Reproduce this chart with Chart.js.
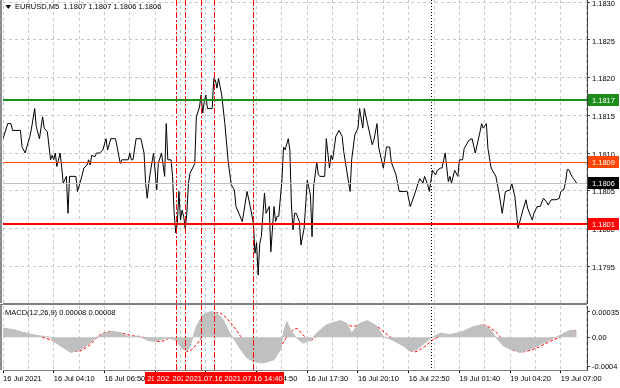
<!DOCTYPE html>
<html>
<head>
<meta charset="utf-8">
<script src="https://cdn.jsdelivr.net/npm/chart.js@4.4.1/dist/chart.umd.min.js"></script>
<style>
  html, body { margin: 0; padding: 0; background: #fff; }
  #wrap { position: relative; width: 620px; height: 388px; overflow: hidden; }
  #main { position: absolute; left: 0; top: 0; }
  #macd { position: absolute; left: 0; top: 304px; }
</style>
</head>
<body>
<div id="wrap">
  <canvas id="main" width="620" height="304"></canvas>
  <canvas id="macd" width="620" height="84"></canvas>
</div>
<script>
// EURUSD M5 close prices, [bar, price]
const closeSeries = [
  [0,1.18119],[3,1.18139],[5,1.18139],[6,1.18130],[11,1.18130],[12,1.18108],[14,1.18100],[15,1.18108],
  [17,1.18122],[18,1.18133],[20,1.18159],[21,1.18135],[23,1.18119],[25,1.18148],[26,1.18133],[28,1.18128],
  [30,1.18091],[31,1.18097],[32,1.18091],[33,1.18100],[34,1.18082],[36,1.18100],[37,1.18082],[38,1.18060],
  [40,1.18069],[41,1.18020],[42,1.18069],[46,1.18069],[47,1.18049],[50,1.18071],[51,1.18080],[53,1.18084],
  [54,1.18091],[55,1.18084],[56,1.18097],[58,1.18095],[59,1.18100],[61,1.18100],[63,1.18104],[65,1.18119],
  [66,1.18104],[68,1.18119],[71,1.18119],[74,1.18086],[75,1.18091],[79,1.18091],[80,1.18100],[81,1.18091],
  [82,1.18091],[84,1.18119],[87,1.18119],[89,1.18100],[90,1.18060],[91,1.18040],[92,1.18060],[93,1.18075],
  [95,1.18100],[97,1.18051],[98,1.18086],[100,1.18100],[102,1.18069],[103,1.18139],[104,1.18091],[106,1.18091],
  [107,1.18069],[108,1.18020],[109,1.17994],[110,1.18007],[111,1.18049],[112,1.18011],[113,1.18024],[114,1.18016],
  [115,1.18000],[116,1.18020],[117,1.18060],[118,1.18073],[121,1.18086],[122,1.18148],[124,1.18161],[125,1.18177],
  [126,1.18153],[127,1.18168],[128,1.18177],[129,1.18159],[132,1.18159],[133,1.18199],[134,1.18197],[135,1.18186],
  [136,1.18199],[138,1.18177],[140,1.18139],[142,1.18091],[144,1.18058],[146,1.18051],[147,1.18029],[151,1.18009],
  [154,1.18049],[156,1.18029],[158,1.18007],[159,1.17967],[160,1.17981],[161,1.17938],[162,1.17980],[163,1.17989],
  [165,1.18047],[166,1.18020],[168,1.18029],[169,1.17969],[171,1.18029],[172,1.18009],[173,1.18016],[174,1.18016],
  [176,1.18064],[177,1.18108],[178,1.18104],[180,1.18119],[181,1.18104],[182,1.18031],[183,1.17998],[184,1.18020],
  [185,1.18020],[187,1.18009],[188,1.17978],[190,1.18000],[192,1.18064],[194,1.18044],[195,1.17989],[196,1.18055],
  [198,1.18088],[199,1.18071],[200,1.18069],[203,1.18069],[204,1.18119],[206,1.18080],[207,1.18097],[208,1.18091],
  [210,1.18122],[212,1.18130],[214,1.18122],[215,1.18102],[217,1.18075],[219,1.18049],[220,1.18091],[222,1.18124],
  [224,1.18133],[225,1.18159],[227,1.18133],[228,1.18159],[230,1.18139],[233,1.18111],[234,1.18117],[236,1.18139],
  [237,1.18108],[240,1.18080],[242,1.18108],[244,1.18108],[245,1.18088],[248,1.18071],[250,1.18049],[254,1.18049],
  [255,1.18049],[257,1.18029],[260,1.18047],[262,1.18060],[263,1.18066],[265,1.18060],[266,1.18069],[268,1.18058],
  [269,1.18049],[271,1.18077],[273,1.18071],[274,1.18077],[276,1.18080],[277,1.18080],[279,1.18100],[281,1.18062],
  [282,1.18069],[283,1.18060],[285,1.18077],[287,1.18069],[288,1.18091],[290,1.18091],[291,1.18106],[294,1.18117],
  [296,1.18119],[298,1.18100],[301,1.18128],[302,1.18139],[303,1.18133],[305,1.18139],[306,1.18106],[308,1.18080],
  [311,1.18069],[313,1.18047],[315,1.18020],[317,1.18049],[320,1.18051],[321,1.18060],[323,1.18042],[325,1.18000],
  [327,1.18016],[328,1.18024],[330,1.18038],[331,1.18027],[333,1.18016],[334,1.18011],[335,1.18020],[337,1.18029],
  [339,1.18029],[341,1.18040],[343,1.18035],[344,1.18031],[346,1.18038],[349,1.18038],[351,1.18040],[352,1.18049],
  [354,1.18052],[355,1.18062],[356,1.18078],[357,1.18078],[359,1.18069],[360,1.18066],[362,1.18060]
];

// MACD(12,26,9) main line (grey histogram) and signal line, [bar, value]
const macdSeries = [
  [0,0.000126],[7,0.000103],[14,0.000058],[19,0.000034],[23,0.00002],[30,0],[32,-0.000058],[40,-0.000171],
  [43,-0.00021],[49,-0.00017],[55,-0.00008],[59,0],[65,0.000066],[70,0.00008],[74,0.00006],[80,0],
  [86,0.00002],[91,-0.00004],[95,-0.000058],[103,-0.00001],[109,-0.00003],[112,-0.000126],[116,-0.000195],[118,-0.00012],
  [122,0.000148],[126,0.000309],[131,0.000354],[135,0.000332],[139,0.00024],[143,0.000058],[145,0],[150,-0.00017],
  [154,-0.000285],[158,-0.00033],[164,-0.000354],[171,-0.00031],[175,-0.00017],[177,0.00006],[179,0.000217],[182,0.00008],
  [185,0],[189,-0.00008],[194,-0.00004],[198,0.000058],[204,0.000171],[213,0.000231],[217,0.00019],[220,0.000058],
  [225,0.00019],[230,0.000231],[236,0.000148],[240,0.00001],[246,-0.00004],[253,-0.000126],[257,-0.000195],[261,-0.00017],
  [266,-0.00008],[270,-0.00001],[276,0.000058],[282,0.000034],[290,0.00008],[297,0.000148],[303,0.000171],[308,0.0001],
  [311,0],[316,-0.000126],[322,-0.00017],[326,-0.00021],[332,-0.00017],[341,-0.00008],[349,0],[356,0.00008],
  [359,0.0001],[362,0.00008]
];
const signalSeries = [
  [0,0.000112],[9,0.00008],[19,0.00003],[30,-0.000034],[40,-0.000126],[47,-0.000195],[55,-0.0001],[61,0.00003],
  [68,0.00008],[74,0.00006],[82,0.00002],[91,-0.00001],[99,-0.00006],[107,-0.00001],[116,-0.000195],[122,-0.0001],
  [129,0.000126],[135,0.00034],[141,0.000263],[150,0.00001],[156,-0.000217],[162,-0.00033],[170,-0.0003],[179,0],
  [185,0.00012],[189,0.00004],[194,-0.00004],[202,0.0001],[208,0.00018],[214,0.0002],[221,0.00015],[230,0.0002],
  [236,0.00015],[244,0.00001],[252,-0.00008],[259,-0.0002],[266,-0.00013],[271,-0.00004],[278,0.00003],[286,0.00003],
  [295,0.0001],[303,0.00017],[312,0.00005],[318,-0.00013],[326,-0.0002],[334,-0.00017],[345,-0.00006],[353,0.00002],
  [362,0.0001]
];

// time axis: a label every 32 bars, a grid line every 16
const timeLabels = ['16 Jul 2021', '16 Jul 04:10', '16 Jul 06:50', '16 Jul 09:30', '16 Jul 12:10', '16 Jul 14:50',
  '16 Jul 17:30', '16 Jul 20:10', '16 Jul 22:50', '19 Jul 01:40', '19 Jul 04:20', '19 Jul 07:00'];
const labelStep = 32;
const gridStep = 16;
const lastBar = 368.5;

const priceTicks = [1.1795, 1.1800, 1.1805, 1.1810, 1.1815, 1.1820, 1.1825, 1.1830];
const macdTicks = [0.00035, 0, -0.0004];
const macdTickLabels = ['0.00035', '0.00', '-0.0004'];

// horizontal levels
const resistanceLevel = 1.1817;
const middleLevel = 1.18088;
const bidLevel = 1.1806;
const supportLevel = 1.18006;

// vertical lines
const markerBars = [109, 115, 125, 133, 158];
const markerTimes = ['2021.07.16 10:35', '2021.07.16 11:05', '2021.07.16 11:55', '2021.07.16 12:35', '2021.07.16 14:40'];
const separatorBar = 270;

const quote = ['1.1807', '1.1807', '1.1806', '1.1806'];
const macdLast = ['0.00008', '0.00008'];

const FONT = "'Liberation Sans', Arial, sans-serif";
Chart.defaults.font.family = FONT;
Chart.defaults.font.size = 7.5;
Chart.defaults.color = '#000';

const gridBars = [];
for (let b = 0; b <= lastBar; b += gridStep) gridBars.push(b);

// no extra room for the end labels, the chart area stays where it is
function noPad(s) {
  s.paddingTop = 0; s.paddingBottom = 0; s.paddingLeft = 0; s.paddingRight = 0;
}

function xAxis(withLabels) {
  return {
    type: 'linear', min: 0, max: lastBar,
    afterBuildTicks: s => { s.ticks = gridBars.map(v => ({ value: v })); },
    afterFit: s => { s.height = withLabels ? 18 : 0; noPad(s); },
    grid: {
      color: '#c8c8c8', drawTicks: withLabels, tickLength: 3,
      tickColor: c => (c.index % 2 ? 'rgba(0,0,0,0)' : '#000')
    },
    border: { dash: [3, 3], color: '#808080' },
    ticks: {
      display: withLabels, align: 'start', autoSkip: false, maxRotation: 0, padding: 1,
      callback: v => (v % labelStep === 0 ? timeLabels[v / labelStep] : '')
    }
  };
}

function drawVerticals(chart) {
  const { ctx, chartArea: a, scales: { x } } = chart;
  ctx.save();
  ctx.lineWidth = 1;
  ctx.strokeStyle = '#000';
  ctx.setLineDash([1, 2]);
  let px = Math.round(x.getPixelForValue(separatorBar)) + 0.5;
  ctx.beginPath(); ctx.moveTo(px, 0); ctx.lineTo(px, a.bottom); ctx.stroke();
  ctx.strokeStyle = '#ff0000';
  ctx.setLineDash([6, 2, 2, 2]);
  markerBars.forEach(b => {
    px = Math.round(x.getPixelForValue(b)) + 0.5;
    ctx.beginPath(); ctx.moveTo(px, 0); ctx.lineTo(px, a.bottom); ctx.stroke();
  });
  ctx.restore();
}

function drawFrame(chart) {
  const { ctx, chartArea: a } = chart;
  ctx.save();
  ctx.fillStyle = '#8c8c8c';
  ctx.fillRect(0, 0, 2, a.bottom);
  ctx.restore();
}

const mainOverlay = {
  id: 'mainOverlay',
  afterDatasetsDraw(chart) {
    const { ctx, chartArea: a, scales: { y } } = chart;
    drawVerticals(chart);
    const hline = (v, color, w) => {
      const py = Math.round(y.getPixelForValue(v)) + (w % 2 ? 0.5 : 0);
      ctx.save();
      ctx.strokeStyle = color; ctx.lineWidth = w;
      ctx.beginPath(); ctx.moveTo(a.left, py); ctx.lineTo(a.right, py); ctx.stroke();
      ctx.restore();
    };
    hline(bidLevel, '#c0c0c0', 1);
    hline(middleLevel, '#ff4500', 1);
    hline(resistanceLevel, '#1c8c1c', 2);
    hline(supportLevel, '#ff0000', 2);
  },
  afterDraw(chart) {
    const { ctx, chartArea: a, scales: { y } } = chart;
    drawFrame(chart);
    // price tags on the axis
    const tag = (v, color) => {
      const py = Math.round(y.getPixelForValue(v));
      ctx.fillStyle = color;
      ctx.fillRect(a.right + 1, py - 6, 31, 12);
      ctx.fillStyle = '#fff';
      ctx.font = '7.5px ' + FONT;
      ctx.textBaseline = 'middle';
      ctx.textAlign = 'left';
      ctx.fillText(v.toFixed(4), a.right + 5, py + 0.5);
    };
    ctx.save();
    tag(resistanceLevel, '#1c8c1c');
    tag(middleLevel, '#ff4500');
    tag(bidLevel, '#000');
    tag(supportLevel, '#ff0000');
    // title
    ctx.fillStyle = '#000';
    ctx.beginPath(); ctx.moveTo(5.5, 5); ctx.lineTo(11, 5); ctx.lineTo(8.25, 9); ctx.closePath(); ctx.fill();
    ctx.font = '7.5px ' + FONT;
    ctx.textBaseline = 'middle';
    ctx.fillText('EURUSD,M5  ' + quote.join(' '), 15, 7);
    ctx.restore();
  }
};

const macdOverlay = {
  id: 'macdOverlay',
  afterDatasetsDraw(chart) { drawVerticals(chart); },
  afterDraw(chart) {
    const { ctx, chartArea: a, scales: { x } } = chart;
    drawFrame(chart);
    ctx.save();
    ctx.fillStyle = '#808080';
    ctx.fillRect(0, 0, a.right, 1);
    ctx.fillStyle = '#000';
    ctx.font = '7.5px ' + FONT;
    ctx.textBaseline = 'middle';
    ctx.fillText('MACD(12,26,9) ' + macdLast.join(' '), 5, 9);
    // time labels of the vertical lines
    ctx.textAlign = 'center';
    markerBars.forEach((b, i) => {
      const px = Math.round(x.getPixelForValue(b));
      ctx.fillStyle = '#ff0000';
      ctx.fillRect(px - 31, a.bottom + 2, 62, 12);
      ctx.fillStyle = '#fff';
      ctx.fillText(markerTimes[i], px + 0.5, a.bottom + 8.5);
    });
    ctx.restore();
  }
};

new Chart(document.getElementById('main'), {
  type: 'line',
  data: {
    datasets: [{
      data: closeSeries.map(([b, p]) => ({ x: b, y: p })),
      borderColor: '#000', borderWidth: 1, pointRadius: 0, tension: 0, fill: false
    }]
  },
  options: {
    responsive: false, animation: false, events: [],
    layout: { padding: { left: 3, top: 0, right: 0, bottom: 1 } },
    plugins: { legend: { display: false }, tooltip: { enabled: false } },
    scales: {
      x: xAxis(false),
      y: {
        position: 'right', min: 1.17901, max: 1.18303,
        afterBuildTicks: s => { s.ticks = priceTicks.map(v => ({ value: v })); },
        afterFit: s => { s.width = 33; noPad(s); },
        grid: { color: '#c8c8c8', tickLength: 3, tickColor: '#404040' },
        border: { dash: [3, 3], color: '#404040' },
        ticks: { padding: 2, labelOffset: 1.5, callback: v => v.toFixed(4) }
      }
    }
  },
  plugins: [mainOverlay]
});

new Chart(document.getElementById('macd'), {
  type: 'line',
  data: {
    datasets: [{
      data: macdSeries.map(([b, v]) => ({ x: b, y: v })),
      borderColor: '#c0c0c0', backgroundColor: '#c0c0c0', borderWidth: 1,
      pointRadius: 0, tension: 0, fill: 'origin'
    }, {
      data: signalSeries.map(([b, v]) => ({ x: b, y: v })),
      borderColor: '#ff0000', borderWidth: 1, borderDash: [3, 2],
      pointRadius: 0, tension: 0.35, fill: false
    }]
  },
  options: {
    responsive: false, animation: false, events: [],
    layout: { padding: { left: 3, top: 2, right: 0, bottom: 0 } },
    plugins: { legend: { display: false }, tooltip: { enabled: false } },
    scales: {
      x: xAxis(true),
      y: {
        position: 'right', min: -0.00045, max: 0.00043,
        afterBuildTicks: s => { s.ticks = macdTicks.map(v => ({ value: v })); },
        afterFit: s => { s.width = 33; noPad(s); },
        grid: { drawOnChartArea: false, tickLength: 3, tickColor: '#404040' },
        border: { color: '#404040' },
        ticks: { padding: 2, labelOffset: 1, callback: (v, i) => macdTickLabels[i] }
      }
    }
  },
  plugins: [macdOverlay]
});
</script>
</body>
</html>
